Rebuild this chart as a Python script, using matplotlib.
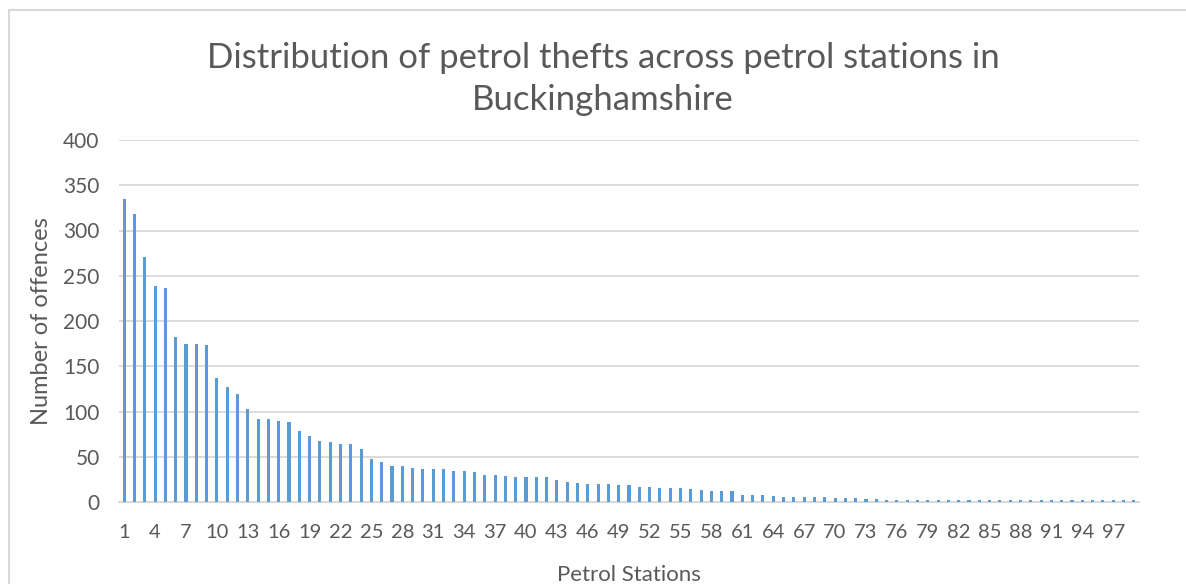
import numpy as np
import matplotlib
matplotlib.use('Agg')
import matplotlib.pyplot as plt
from matplotlib.patches import Rectangle

# Offences per petrol station
stations = list(range(1, 100))
offences = [335, 318, 271, 239, 236, 182, 175, 175, 174, 137,
            127, 119, 103, 92, 92, 90, 88, 79, 73, 67,
            66, 64, 64, 59, 48, 44, 40, 40, 38, 37,
            36, 36, 34, 34, 33, 30, 30, 29, 28, 28,
            28, 28, 24, 22, 21, 20, 20, 20, 19, 19,
            17, 17, 16, 16, 15, 14, 13, 12, 12, 12,
            8, 8, 8, 7, 6, 6, 5, 5, 5, 4,
            4, 4, 3, 3] + [2] * 25
tick_labels = [str(s) for s in range(1, 98, 3)]

title = 'Distribution of petrol thefts across petrol stations in\nBuckinghamshire'

plt.rcParams['font.family'] = ['Lato', 'DejaVu Sans']
text_col = '#595959'
grid_col = '#D9D9D9'

W, H = 1186, 584
fig = plt.figure(figsize=(W / 100, H / 100), dpi=100)
ax = fig.add_axes([119 / W, (H - 502) / H, (1139 - 119) / W, (502 - 140) / H])

ax.bar(stations, offences, width=0.3, color='#5B9BD5', zorder=3)

ax.set_xlim(0.5, 99.5)
ax.set_ylim(0, 400)
ax.set_yticks(range(0, 401, 50))
ax.set_xticks(range(1, 98, 3))
ax.set_xticklabels(tick_labels)
ax.grid(axis='y', color=grid_col, lw=1.3, zorder=0)
ax.tick_params(length=0, colors=text_col)
ax.tick_params(axis='y', labelsize=15, pad=14)
ax.tick_params(axis='x', labelsize=14.5, pad=16)
for s in ['left', 'right', 'top']:
    ax.spines[s].set_visible(False)
ax.spines['bottom'].set_color(grid_col)
ax.spines['bottom'].set_linewidth(1.5)

ax.set_xlabel('Petrol Stations', fontsize=16, color=text_col, labelpad=17)
ax.set_ylabel('Number of offences', fontsize=17, color=text_col, labelpad=8)

fig.text(603 / W, 1 - 79 / H, title, ha='center', va='center',
         fontsize=25, color=text_col, linespacing=1.42)

# chart area border
fig.patches.append(Rectangle((9 / W, -0.1), 1.2, 1 - 10 / H + 0.1, fill=False,
                             edgecolor=grid_col, lw=1.5, transform=fig.transFigure))

fig.savefig('out.png', dpi=100, facecolor='white')
